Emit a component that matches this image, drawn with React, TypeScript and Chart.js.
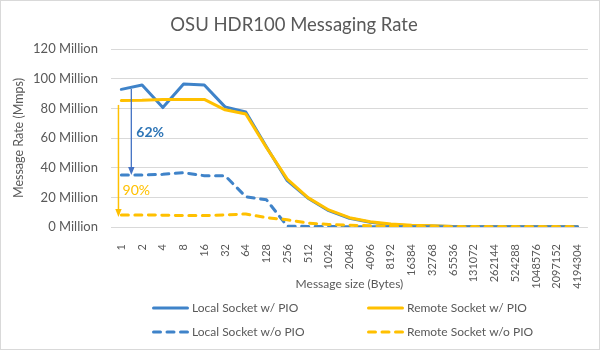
import React, { useEffect, useRef } from "react";
import { Chart, registerables } from "chart.js";

Chart.register(...registerables);

const TITLE = "OSU HDR100 Messaging Rate";
const X_TITLE = "Message size (Bytes)";
const Y_TITLE = "Message Rate (Mmps)";

const messageSizes = [
  "1", "2", "4", "8", "16", "32", "64", "128", "256", "512", "1024", "2048",
  "4096", "8192", "16384", "32768", "65536", "131072", "262144", "524288",
  "1048576", "2097152", "4194304",
];

// values in millions of messages per second
const localWithPIO = [92.8, 95.7, 80.5, 96.4, 95.7, 81, 77.5, 54, 31.2, 19.4, 11, 5.9, 3.2, 1.6, 0.9, 0.6, 0.3, 0.2, 0.1, 0.1, 0.1, 0.1, 0.1];
const remoteWithPIO = [85.2, 85.4, 86, 86, 86, 79, 76.2, 53.5, 32.3, 19.8, 11.5, 6.3, 3.6, 2.0, 1.2, 0.8, 0.4, 0.2, 0.1, 0.1, 0.1, 0.1, 0.1];
const localWithoutPIO = [35, 35, 35.5, 36.6, 34.6, 34.6, 20.4, 18.3, 0.5, 0.4, 0.3, 0.2, 0.2, 0.1, 0.1, 0.1, 0.1, 0.1, 0.1, 0.1, 0.1, 0.1, 0.1];
const remoteWithoutPIO = [8.1, 8.1, 8, 7.7, 7.7, 8.1, 8.8, 6.3, 4.9, 2.6, 1.7, 1.2, 0.8, 0.5, 0.3, 0.2, 0.1, 0.1, 0.1, 0.1, 0.1, 0.1, 0.1];

const seriesNames = ["Local Socket w/ PIO", "Remote Socket w/ PIO", "Local Socket w/o PIO", "Remote Socket w/o PIO"];
const seriesValues = [localWithPIO, remoteWithPIO, localWithoutPIO, remoteWithoutPIO];
const seriesColors = ["#3F83C9", "#FFC000", "#3F83C9", "#FFC000"];
const seriesDashed = [false, false, true, true];

const Y_MIN = 0;
const Y_MAX = 120;
const Y_STEP = 20;
const Y_UNIT = "Million";

// drop annotations: arrow from one value to another at a category position, with a label
const dropArrows = [
  { at: 0.48, from: 93, to: 35, color: "#4472C4", width: 1.3, label: "62%", labelAt: 1.39, labelValue: 64, labelColor: "#2E75B6", bold: true },
  { at: -0.14, from: 82.3, to: 6.7, color: "#FFC000", width: 1.5, label: "90%", labelAt: 0.72, labelValue: 24.3, labelColor: "#FFC000", bold: false },
];

const FONT = "Lato, 'Open Sans', sans-serif";
const TEXT = "#595959";
const GRID = "#D9D9D9";

const frame = {
  id: "frame",
  beforeDraw(chart: any) {
    const { ctx, width, height } = chart;
    ctx.save();
    ctx.fillStyle = "#FFFFFF";
    ctx.fillRect(0, 0, width, height);
    ctx.strokeStyle = GRID;
    ctx.lineWidth = 1;
    ctx.strokeRect(0.5, 0.5, width - 1, height - 1);
    ctx.restore();
  },
};

const arrows = {
  id: "arrows",
  afterDatasetsDraw(chart: any) {
    const { ctx, scales } = chart;
    const xs = scales.x;
    const ys = scales.y;
    ctx.save();
    dropArrows.forEach((a) => {
      const x = xs.getPixelForValue(a.at);
      const y1 = ys.getPixelForValue(a.from);
      const y2 = ys.getPixelForValue(a.to);
      const head = 8;
      const half = 3.2;
      ctx.strokeStyle = a.color;
      ctx.fillStyle = a.color;
      ctx.lineWidth = a.width;
      ctx.beginPath();
      ctx.moveTo(x, y1);
      ctx.lineTo(x, y2 - head + 1);
      ctx.stroke();
      ctx.beginPath();
      ctx.moveTo(x, y2);
      ctx.lineTo(x - half, y2 - head);
      ctx.lineTo(x + half, y2 - head);
      ctx.closePath();
      ctx.fill();
      ctx.font = `${a.bold ? "bold " : ""}14px ${FONT}`;
      ctx.fillStyle = a.labelColor;
      ctx.textAlign = "center";
      ctx.textBaseline = "middle";
      ctx.fillText(a.label, xs.getPixelForValue(a.labelAt), ys.getPixelForValue(a.labelValue));
    });
    ctx.restore();
  },
};

const legendGrid = {
  id: "legendGrid",
  afterDraw(chart: any) {
    const { ctx } = chart;
    const cols = [152, 367];
    const rows = [308, 332];
    const sample = 37;
    ctx.save();
    ctx.font = `12px ${FONT}`;
    ctx.textBaseline = "middle";
    ctx.textAlign = "left";
    chart.data.datasets.forEach((ds: any, i: number) => {
      const x = cols[i % 2];
      const y = rows[Math.floor(i / 2)];
      ctx.strokeStyle = ds.borderColor;
      ctx.lineWidth = 3;
      ctx.lineCap = "round";
      ctx.setLineDash(ds.borderDash || []);
      ctx.beginPath();
      ctx.moveTo(x + 1.5, y);
      ctx.lineTo(x + sample - 1.5, y);
      ctx.stroke();
      ctx.setLineDash([]);
      ctx.fillStyle = TEXT;
      ctx.fillText(ds.label, x + sample + 3, y);
    });
    ctx.restore();
  },
};

export default function App() {
  const ref = useRef<HTMLCanvasElement | null>(null);

  useEffect(() => {
    if (!ref.current) return;
    const chart = new Chart(ref.current, {
      type: "line",
      data: {
        labels: messageSizes,
        datasets: seriesNames.map((name, i) => ({
          label: name,
          data: seriesValues[i],
          borderColor: seriesColors[i],
          backgroundColor: seriesColors[i],
          borderWidth: 3,
          borderDash: seriesDashed[i] ? [7, 6.5] : [],
          borderCapStyle: "round",
          borderJoinStyle: "round",
          pointRadius: 0,
          pointHoverRadius: 0,
          tension: 0,
          fill: false,
          order: seriesNames.length - i,
        })),
      },
      options: {
        animation: false,
        responsive: false,
        devicePixelRatio: 1,
        events: [],
        layout: { padding: { left: 0, right: 12, top: 0, bottom: 55 } },
        plugins: {
          legend: { display: false },
          tooltip: { enabled: false },
          title: {
            display: true,
            text: TITLE,
            color: TEXT,
            font: { family: FONT, size: 18.5, weight: "normal", lineHeight: 1.2 },
            padding: { top: 14, bottom: 12.8 },
          },
        },
        scales: {
          x: {
            type: "category",
            offset: true,
            grid: { display: false },
            border: { display: false },
            ticks: {
              autoSkip: false,
              minRotation: 90,
              maxRotation: 90,
              padding: 9,
              color: TEXT,
              font: { family: FONT, size: 11 },
            },
            title: {
              display: true,
              text: X_TITLE,
              color: TEXT,
              font: { family: FONT, size: 12 },
              padding: { top: 0, bottom: 3.5 },
            },
            afterFit: (s: any) => { s.height = 68; },
          },
          y: {
            min: Y_MIN,
            max: Y_MAX,
            grid: { color: GRID, lineWidth: 1, drawTicks: false },
            border: { display: false },
            ticks: {
              stepSize: Y_STEP,
              padding: 13,
              color: TEXT,
              font: { family: FONT, size: 13 },
              callback: (v: any) => `${v} ${Y_UNIT}`,
            },
            title: {
              display: true,
              text: Y_TITLE,
              color: TEXT,
              font: { family: FONT, size: 12.5 },
              padding: { top: 11.5, bottom: 0 },
            },
            afterFit: (s: any) => { s.width = 111; },
          },
        },
      },
      plugins: [frame, arrows, legendGrid],
    });
    return () => chart.destroy();
  }, []);

  return (
    <div style={{ position: "fixed", left: 0, top: 0, width: 600, height: 350 }}>
      <canvas ref={ref} width={600} height={350} style={{ width: 600, height: 350, display: "block" }} />
    </div>
  );
}
